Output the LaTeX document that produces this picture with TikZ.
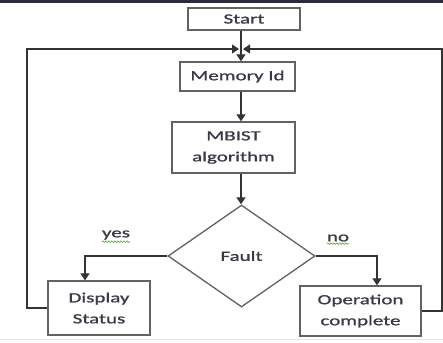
\documentclass[tikz,border=0pt]{standalone}
\usepackage{fontspec}
\setmainfont{Carlito}
\newfontfamily\widefont[FakeStretch=1.5,FakeBold=1.2]{Carlito}
\usetikzlibrary{shapes.geometric,arrows.meta,decorations.pathmorphing}
\definecolor{boxline}{HTML}{626262}
\definecolor{conn}{HTML}{333333}
\definecolor{txt}{HTML}{3A3A46}
\definecolor{topbar}{HTML}{2B2B3B}
\definecolor{wavy}{HTML}{6DAA4C}
\definecolor{faint}{HTML}{E4E4E4}
\begin{document}
\begin{tikzpicture}[x=1pt,y=-1pt,
  stepbox/.style={draw=boxline,line width=1.4pt,inner sep=0pt,align=center,
     font=\widefont\fontsize{14}{21}\selectfont,text=txt},
  decisionbox/.style={draw=boxline,line width=1.3pt,shape=diamond,inner sep=0pt,
     minimum width=147pt,minimum height=102pt,font=\widefont\fontsize{14}{21}\selectfont,text=txt},
  conline/.style={draw=conn,line width=1.1pt},
  arr/.style={conline,-{Triangle[width=9pt,length=7pt]}},
  lbl/.style={font=\widefont\fontsize{14}{21}\selectfont,text=txt,inner sep=0pt},
  squiggle/.style={draw=wavy,line width=0.7pt,decorate,decoration={snake,amplitude=0.8pt,segment length=3pt}}]
\useasboundingbox (0,0) rectangle (443,342);
\fill[white] (0,0) rectangle (443,342);
\fill[topbar] (0,0) rectangle (443,3);
\draw[faint,line width=1pt] (0,339.5) -- (443,339.5);

\node[stepbox,minimum width=112pt,minimum height=22pt] (start) at (244,19) {Start};
\node[stepbox,minimum width=115pt,minimum height=29pt] (mem) at (237.5,76.5) {Memory Id};
\node[stepbox,minimum width=123pt,minimum height=51pt] (mbist) at (233.5,147.5) {MBIST\\algorithm};
\node[decisionbox] (fault) at (241.5,256) {Fault};
\node[stepbox,minimum width=102pt,minimum height=54pt] (disp) at (99,308) {Display\\Status};
\node[stepbox,minimum width=121pt,minimum height=50pt] (oper) at (360.5,311) {Operation\\complete};

\coordinate (jx) at (241,49);
\coordinate (jl) at (239,49);
\coordinate (jr) at (243,49);
\coordinate (lx) at (27,49);
\coordinate (rx) at (442,49);
\coordinate (yx) at (85,0);
\coordinate (nx) at (377,0);

\draw[arr] (start.south -| jx) -- (mem.north -| jx);
\draw[arr] (mem.south -| jx) -- (mbist.north -| jx);
\draw[arr] (mbist.south -| jx) -- (fault.north -| jx);

\draw[arr] (fault.west) -| (disp.north -| yx);
\draw[arr] (fault.east) -| (oper.north -| nx);

\draw[arr] (disp.west) -| (lx) -- (jl);
\draw[arr] (oper.east) -| (rx) -- (jr);

\node[lbl] (yes) at (116,235) {yes};
\node[lbl] (no) at (338,238) {no};
\draw[squiggle] (yes.south west) ++(0,2) coordinate (ys) -- (ys -| yes.south east);
\draw[squiggle] (no.south west) ++(0,2) coordinate (ns) -- (ns -| no.south east);
\end{tikzpicture}
\end{document}
